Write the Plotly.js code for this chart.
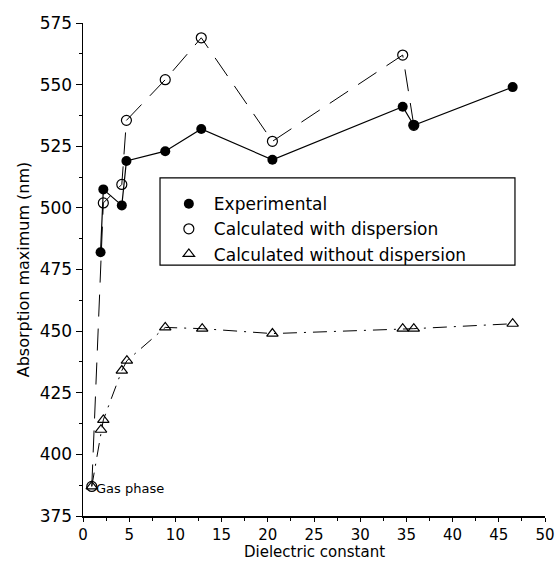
<!DOCTYPE html>
<html><head><meta charset="utf-8">
<script src="https://cdn.plot.ly/plotly-3.0.1.min.js"></script>
<style>body{margin:0;background:#fff}#chart{width:558px;height:563px}</style>
</head><body><div id="chart"></div>
<script>
const expX = [1.9, 2.2, 4.2, 4.7, 8.9, 12.8, 20.5, 34.6, 35.8, 46.5];
const expY = [482, 507.5, 501, 519, 523, 532, 519.5, 541, 533.5, 549];
const dispX = [0.95, 2.2, 4.2, 4.7, 8.9, 12.8, 20.5, 34.6, 35.8];
const dispY = [387, 502, 509.5, 535.5, 552, 569, 527, 562, 533.5];
const noDispX = [0.95, 1.95, 2.2, 4.2, 4.75, 8.9, 12.9, 20.5, 34.6, 35.8, 46.5];
const noDispY = [387, 410, 414, 434, 438, 451.5, 451, 449, 451, 451, 453];
const xTicks = [0, 5, 10, 15, 20, 25, 30, 35, 40, 45, 50];
const yTicks = [375, 400, 425, 450, 475, 500, 525, 550, 575];
const names = ["Experimental", "Calculated with dispersion", "Calculated without dispersion"];

const font = "DejaVu Sans, sans-serif";
const data = [
  {x: noDispX, y: noDispY, mode: "lines+markers", showlegend: false,
   line: {color: "#000", width: 1, dash: "14px,7px,2px,7px"},
   marker: {symbol: "triangle-up-open", size: 10, color: "#000", line: {width: 1.2}}},
  {x: dispX, y: dispY, mode: "lines+markers", showlegend: false,
   line: {color: "#000", width: 1, dash: "22px,12px"},
   marker: {symbol: "circle-open", size: 10, color: "#000", line: {width: 1.2}}},
  {x: expX, y: expY, mode: "lines+markers", showlegend: false,
   line: {color: "#000", width: 1.2},
   marker: {symbol: "circle", size: 10, color: "#000"}},
  {x: [null], y: [null], mode: "markers", name: names[0],
   marker: {symbol: "circle", size: 10, color: "#000"}},
  {x: [null], y: [null], mode: "markers", name: names[1],
   marker: {symbol: "circle-open", size: 10, color: "#000", line: {width: 1.2}}},
  {x: [null], y: [null], mode: "markers", name: names[2],
   marker: {symbol: "triangle-up-open", size: 10, color: "#000", line: {width: 1.2}}}
];
const layout = {
  width: 558, height: 563,
  margin: {l: 83, r: 13, t: 23, b: 47},
  paper_bgcolor: "#fff", plot_bgcolor: "#fff",
  font: {family: font, color: "#000", size: 15},
  showlegend: true,
  legend: {x: 0.175, y: 0.669, xanchor: "left", yanchor: "top",
    borderwidth: 0, bgcolor: "rgba(0,0,0,0)",
    font: {family: font, size: 17}, tracegroupgap: 0, itemwidth: 40},
  shapes: [{type: "rect", xref: "paper", yref: "paper", x0: 0.1667, x1: 0.935, y0: 0.509, y1: 0.686,
    line: {color: "#000", width: 1.2}, fillcolor: "#fff", layer: "below"}],
  xaxis: {range: [0, 50], tickvals: xTicks, ticktext: xTicks.map(String),
    showgrid: false, zeroline: false, showline: true, linecolor: "#000", linewidth: 1.5,
    ticks: "outside", ticklen: 4, tickcolor: "#000",
    minor: {dtick: 2.5, ticks: "outside", ticklen: 3, tickcolor: "#000"},
    tickfont: {size: 15, family: font}},
  yaxis: {range: [375, 575], tickvals: yTicks, ticktext: yTicks.map(String),
    showgrid: false, zeroline: false, showline: true, linecolor: "#000", linewidth: 1.5,
    ticks: "outside", ticklen: 6, tickcolor: "#000",
    minor: {dtick: 12.5, ticks: "outside", ticklen: 3, tickcolor: "#000"},
    tickfont: {size: 17, family: font},
    title: {text: "Absorption maximum (nm)", font: {size: 16, family: font}, standoff: 6}},
  annotations: [
    {x: 1.2, y: 386, xref: "x", yref: "y", text: "Gas phase", showarrow: false,
     xanchor: "left", yanchor: "middle", font: {size: 13, family: font}},
    {x: 0.5, y: -0.074, xref: "paper", yref: "paper", text: "Dielectric constant", showarrow: false,
     xanchor: "center", yanchor: "middle", font: {size: 15, family: font}}
  ]
};
Plotly.newPlot("chart", data, layout, {displayModeBar: false, staticPlot: true});
</script></body></html>
